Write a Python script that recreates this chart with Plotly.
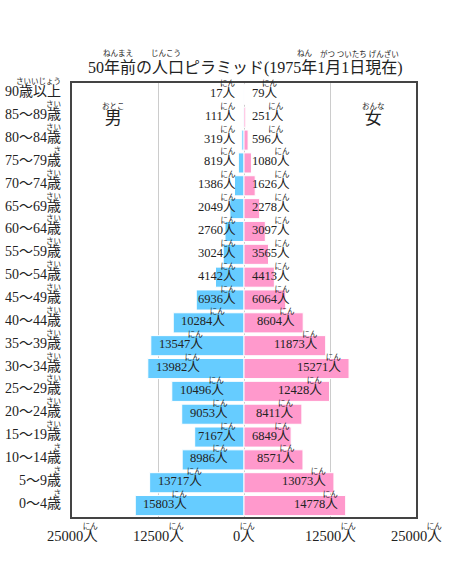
import plotly.graph_objects as go

# 年齢階級(下から上へ)
ages = ["0〜4歳", "5〜9歳", "10〜14歳", "15〜19歳", "20〜24歳", "25〜29歳",
        "30〜34歳", "35〜39歳", "40〜44歳", "45〜49歳", "50〜54歳", "55〜59歳",
        "60〜64歳", "65〜69歳", "70〜74歳", "75〜79歳", "80〜84歳", "85〜89歳",
        "90歳以上"]
age_ruby = ["さ", "さ", "さ", "さい", "さい", "さい", "さい", "さい", "さい", "さい",
            "さい", "さい", "さい", "さい", "さい", "さ", "さい", "さい", "さいいじょう"]

male = [15803, 13717, 8986, 7167, 9053, 10496, 13982, 13547, 10284, 6936,
        4142, 3024, 2760, 2049, 1386, 819, 319, 111, 17]
female = [14778, 13073, 8571, 6849, 8411, 12428, 15271, 11873, 8604, 6064,
          4413, 3565, 3097, 2278, 1626, 1080, 596, 251, 79]

tick_vals = [-25000, -12500, 0, 12500, 25000]
tick_text = ["25000人", "12500人", "0人", "12500人", "25000人"]

FONT = "Liberation Serif, Noto Sans CJK JP, serif"
BLUE = "#66ccff"
PINK = "#ff99cc"

W, H = 450, 575
L, R, T, B = 72, 34, 83, 58
XMAX = 25000
px_per_unit = (W - L - R) / (2 * XMAX)
LABEL_FS = 12.5
RUBY_FS = 7.5


def ruby_text(main, ruby, main_size):
    # ふりがなを上の行に、本文を下の行に(右揃え)
    return (f"<span style='font-size:{RUBY_FS}px'>{ruby}</span><br>"
            f"<span style='font-size:{main_size}px'>{main}</span>")


def px(x):
    return (x - L) / (W - L - R)


def py(y):
    return (H - B - y) / (H - T - B)


fig = go.Figure()
fig.add_trace(go.Bar(
    y=ages, x=[-v for v in male], orientation="h", name="男",
    marker=dict(color=BLUE, line=dict(color="white", width=1)),
    hoverinfo="skip", showlegend=False))
fig.add_trace(go.Bar(
    y=ages, x=female, orientation="h", name="女",
    marker=dict(color=PINK, line=dict(color="white", width=1)),
    hoverinfo="skip", showlegend=False))

annotations = []

# 棒の数値ラベル
for age, m, f in zip(ages, male, female):
    for v, sign in ((m, -1), (f, 1)):
        label = f"{v}人"
        w = (len(str(v)) * 0.5 + 1) * LABEL_FS
        if v * px_per_unit >= w + 12:
            x, xanchor, xshift = sign * v, ("left" if sign < 0 else "right"), -sign * 6
        else:
            x, xanchor, xshift = 0, ("right" if sign < 0 else "left"), sign * 6
        annotations.append(dict(
            x=x, y=age, xref="x", yref="y", xanchor=xanchor, yanchor="middle",
            xshift=xshift, yshift=5, align="right", showarrow=False,
            text=ruby_text(label, "にん", LABEL_FS),
            font=dict(family=FONT, size=8.5, color="#222")))

# 縦軸ラベル
for age, rb in zip(ages, age_ruby):
    annotations.append(dict(
        x=0, y=age, xref="paper", yref="y", xanchor="right", yanchor="middle",
        xshift=-9, yshift=6, align="right", showarrow=False,
        text=ruby_text(age, rb, 14),
        font=dict(family=FONT, size=9.5, color="#222")))

# 横軸ラベル
for tv, tt in zip(tick_vals, tick_text):
    annotations.append(dict(
        x=tv, y=0, xref="x", yref="paper", xanchor="center", yanchor="top",
        yshift=-3, align="right", showarrow=False,
        text=ruby_text(tt, "にん", 14.5),
        font=dict(family=FONT, size=9.5, color="#222")))

# 男・女
for txt, rb, xx in (("男", "おとこ", 113), ("女", "おんな", 373)):
    annotations.append(dict(
        x=px(xx), y=py(115), xref="paper", yref="paper", xanchor="center",
        yanchor="middle", align="center", showarrow=False,
        text=ruby_text(txt, rb, 17),
        font=dict(family=FONT, size=11.5, color="#222")))

# タイトルとふりがな
annotations.append(dict(
    x=px(245), y=py(68), xref="paper", yref="paper", xanchor="center",
    yanchor="middle", showarrow=False,
    text="50年前の人口ピラミッド(1975年1月1日現在)",
    font=dict(family=FONT, size=16, color="#222")))
for rb, xx in (("ねんまえ", 118), ("じんこう", 166), ("ねん", 305),
               ("がつ ついたち げんざい", 359)):
    annotations.append(dict(
        x=px(xx), y=py(54), xref="paper", yref="paper", xanchor="center",
        yanchor="middle", showarrow=False, text=rb,
        font=dict(family=FONT, size=RUBY_FS, color="#222")))

fig.update_layout(
    width=W, height=H,
    margin=dict(l=L, r=R, t=T, b=B),
    barmode="overlay", bargap=0.12,
    plot_bgcolor="white", paper_bgcolor="white",
    font=dict(family=FONT, color="#222"),
    annotations=annotations,
    xaxis=dict(range=[-XMAX, XMAX], tickvals=tick_vals, showticklabels=False,
               showgrid=True, gridcolor="#cccccc", gridwidth=1,
               zeroline=True, zerolinecolor="#cccccc", zerolinewidth=1,
               showline=True, mirror=True, linecolor="#444", linewidth=1.5,
               fixedrange=True),
    yaxis=dict(showticklabels=False, showgrid=False, showline=True,
               mirror=True, linecolor="#444", linewidth=1.5, fixedrange=True,
               range=[-0.5, len(ages) - 0.5]),
)

# ページ既定の余白をなくして図を左上にぴったり置く
fig.write_html("out.html", config={"displayModeBar": False},
               post_script="document.body.style.margin='0';")
